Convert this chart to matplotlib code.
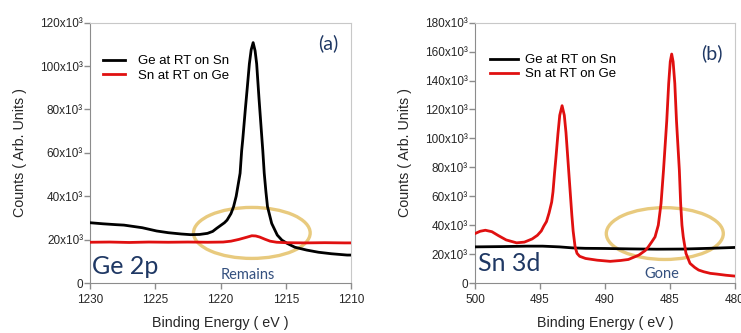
import matplotlib
matplotlib.use("Agg")
import matplotlib.pyplot as plt
from matplotlib.patches import Ellipse

plt.rcParams['font.family'] = ['Liberation Sans', 'DejaVu Sans']

# Ge 2p region (counts in units of 10^3)
ge2p_be = [1230, 1229, 1228, 1227.4, 1226, 1224.9, 1224, 1223, 1222.3, 1221.6,
           1221, 1220.6, 1220.3, 1220.0, 1219.7, 1219.5, 1219.2, 1219.0, 1218.8,
           1218.5, 1218.38, 1218.3, 1218.1, 1217.95, 1217.79, 1217.65, 1217.5,
           1217.35, 1217.23, 1217.05, 1216.82, 1216.76, 1216.65, 1216.52, 1216.4,
           1216.08, 1215.65, 1215.3, 1214.9, 1214.3, 1213.4, 1212.5, 1211.5,
           1210.3, 1210]
ge2p_ge_on_sn = [27.8, 27.3, 26.9, 26.7, 25.5, 24.0, 23.2, 22.6, 22.3, 22.4,
                 22.9, 23.8, 25.2, 26.5, 27.8, 29.0, 32.0, 35.2, 40.0,
                 50.6, 61.0, 65.9, 80.0, 90.0, 101.0, 107.5, 110.8,
                 107.0, 101.0, 85.0, 65.9, 61.0, 50.6, 42.0, 35.2,
                 27.5, 22.1, 19.8, 18.3, 16.5, 15.2, 14.2, 13.5,
                 12.9, 12.9]

ge2p_be_sn = [1230, 1228.5, 1227, 1225.5, 1224, 1222.5, 1221, 1219.8, 1219.2,
              1218.6, 1218.0, 1217.6, 1217.3, 1217.0, 1216.6, 1216.2, 1215.7,
              1215, 1213.5, 1212, 1210.5, 1210]
ge2p_sn_on_ge = [18.8, 18.9, 18.7, 18.9, 18.8, 18.9, 18.8, 18.9, 19.3,
                 20.1, 21.1, 21.8, 21.7, 21.2, 20.2, 19.3, 18.8,
                 18.6, 18.5, 18.6, 18.5, 18.5]

# Sn 3d region (counts in units of 10^3)
sn3d_be_ge = [500, 498, 496, 494.8, 493.5, 492.5, 491.5, 490, 488, 486, 484, 482, 480]
sn3d_ge_on_sn = [25.0, 25.2, 25.5, 25.5, 25.0, 24.3, 24.0, 23.9, 23.6, 23.4, 23.5, 24.0, 24.6]

sn3d_be = [500, 499.6, 499.2, 498.7, 498.2, 497.6, 496.8, 496.2, 495.6, 495.2,
           494.9, 494.7, 494.5, 494.3, 494.1, 494.0, 493.88, 493.77, 493.62,
           493.48, 493.3, 493.13, 493.0, 492.85, 492.7, 492.55, 492.45, 492.3,
           492.15, 491.95, 491.5, 490.6, 489.6, 488.8, 488.2, 487.4, 486.9,
           486.67, 486.4, 486.15, 485.9, 485.69, 485.5, 485.25, 485.1, 484.98,
           484.87, 484.76, 484.63, 484.5, 484.28, 484.18, 484.08, 483.98,
           483.77, 483.46, 483.1, 482.8, 482.4, 481.9, 481.4, 480.7, 480]
sn3d_sn_on_ge = [34.2, 35.8, 36.5, 35.5, 32.8, 29.8, 27.8, 28.3, 30.5, 33.0,
                 36.0, 39.5, 42.5, 48.5, 56.0, 63.0, 76.0, 87.0, 103.0,
                 116.0, 122.6, 116.0, 104.0, 85.0, 66.0, 47.0, 36.0, 25.0,
                 20.5, 18.5, 17.0, 15.8, 15.0, 15.6, 16.3, 19.3, 22.5,
                 25.0, 28.5, 31.9, 40.0, 54.9, 77.9, 112.0, 138.0, 153.0,
                 158.3, 153.0, 138.0, 112.0, 77.9, 54.9, 40.0, 31.9,
                 20.5, 13.6, 10.8, 9.0, 7.8, 6.7, 6.2, 5.4, 4.8]

labels = ['Ge at RT on Sn', 'Sn at RT on Ge']
navy = '#1f3864'
ring = '#e3bd5e'


def style_axis(ax, xlim, xticks, ymax):
    ax.set_xlim(*xlim)
    ax.set_xticks(xticks)
    ax.set_ylim(0, ymax)
    ax.set_yticks(range(0, ymax + 1, 20))
    ax.set_yticklabels(['0' if v == 0 else f'{v}x10³' for v in range(0, ymax + 1, 20)])
    for s in ['left', 'bottom']:
        ax.spines[s].set_color('#8c8c8c')
    for s in ['top', 'right']:
        ax.spines[s].set_color('#c8c8c8')
    ax.tick_params(axis='y', direction='out', length=4, width=1, color='#8c8c8c',
                   labelsize=8.5, pad=1, labelcolor='#262626')
    ax.tick_params(axis='x', direction='out', length=4, width=1, color='#8c8c8c',
                   labelsize=8.5, pad=4, labelcolor='#262626')
    ax.set_xlabel('Binding Energy ( eV )', fontsize=10.3, color='#262626')
    ax.set_ylabel('Counts ( Arb. Units )', fontsize=10.3, color='#262626')
    ax.xaxis.set_label_coords(0.5, -0.155)
    ax.xaxis.label.set_va('center')
    ax.yaxis.set_label_coords(-0.27, 0.5)
    ax.yaxis.label.set_va('center')


fig = plt.figure(figsize=(7.41, 3.33), dpi=100)

# (a) Ge 2p
ax1 = fig.add_axes([0.1215, 0.150, 0.3522, 0.782])
ax1.add_patch(Ellipse((1217.6, 23.1), 8.94, 23.5, fill=False, ec=ring, lw=2.4, alpha=0.8, zorder=1))
ax1.plot(ge2p_be, ge2p_ge_on_sn, color='black', lw=2.0, label=labels[0], zorder=3)
ax1.plot(ge2p_be_sn, ge2p_sn_on_ge, color='#e01010', lw=2.0, label=labels[1], zorder=3)
style_axis(ax1, (1230, 1210), [1230, 1225, 1220, 1215, 1210], 120)
ax1.legend(loc='upper left', bbox_to_anchor=(0.05, 0.876), frameon=False, fontsize=9.5,
           handlelength=1.65, handletextpad=1.0, labelspacing=0.16, borderpad=0, borderaxespad=0)
ax1.text(0.912, 0.922, '(a)', transform=ax1.transAxes, ha='center', va='center',
         fontsize=14, color=navy, family='Lato')
ax1.text(0.008, 0.063, 'Ge 2p', transform=ax1.transAxes, ha='left', va='center',
         fontsize=18, color=navy, family='Lato')
ax1.text(0.605, 0.031, 'Remains', transform=ax1.transAxes, ha='center', va='center',
         fontsize=10.5, color='#34507f', family='Lato')

# (b) Sn 3d
ax2 = fig.add_axes([0.641, 0.150, 0.3509, 0.782])
ax2.add_patch(Ellipse((485.4, 34.2), 9.0, 35.8, fill=False, ec=ring, lw=2.4, alpha=0.8, zorder=1))
ax2.plot(sn3d_be_ge, sn3d_ge_on_sn, color='black', lw=2.0, label=labels[0], zorder=3)
ax2.plot(sn3d_be, sn3d_sn_on_ge, color='#e01010', lw=2.0, label=labels[1], zorder=3)
style_axis(ax2, (500, 480), [500, 495, 490, 485, 480], 180)
ax2.legend(loc='upper left', bbox_to_anchor=(0.058, 0.88), frameon=False, fontsize=9.5,
           handlelength=2.1, handletextpad=0.55, labelspacing=0.16, borderpad=0, borderaxespad=0)
ax2.text(0.912, 0.884, '(b)', transform=ax2.transAxes, ha='center', va='center',
         fontsize=14, color=navy, family='Lato')
ax2.text(0.013, 0.075, 'Sn 3d', transform=ax2.transAxes, ha='left', va='center',
         fontsize=18, color=navy, family='Lato')
ax2.text(0.719, 0.034, 'Gone', transform=ax2.transAxes, ha='center', va='center',
         fontsize=10.5, color='#34507f', family='Lato')

fig.savefig('out.png', dpi=100)
